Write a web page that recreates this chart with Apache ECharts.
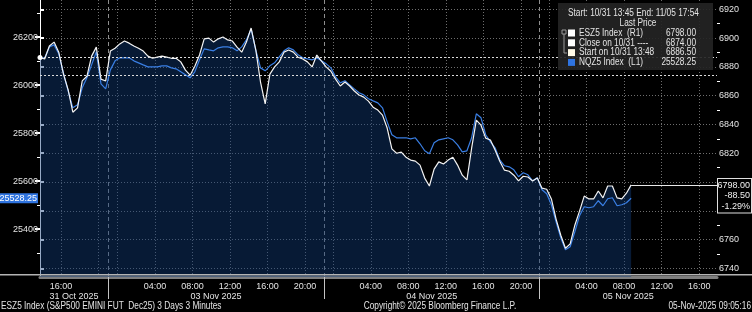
<!DOCTYPE html>
<html><head><meta charset="utf-8">
<script src="https://cdn.jsdelivr.net/npm/echarts@6/dist/echarts.min.js"></script>
<style>html,body{margin:0;padding:0;background:#000;}#c{width:752px;height:312px;}</style>
</head><body><div id="c"></div><script>
const FONT = "'Liberation Sans','Arial',sans-serif";

// sample spacing in trading hours (breaks removed), first sample 10/31 13:45
const STEP_H = 0.5;
const X_MAX = 72.15;

// ESZ5 (S&P500 e-mini, right axis)
const esValues = [
 6886.5,6885.5,6894.5,6897.25,6890.25,6875,6864,6848.5,6851.5,6870.25,
 6873.5,6887.5,6893.75,6871.5,6870.25,6891,6893,6896,6898,6896.5,
 6894.5,6893,6891,6887.5,6886,6886.75,6887.5,6886.75,6886,6886,
 6883.5,6877.75,6874.25,6880.5,6888.25,6899.5,6900,6897.25,6899.5,6900.75,
 6898.75,6898,6893.75,6890.25,6897.25,6907,6891.75,6869.5,6854.25,6875,
 6880,6883.5,6890.25,6891.75,6890.25,6886.75,6885.5,6883.5,6880,6888.25,
 6884,6880,6877,6871.5,6866.75,6869.5,6866.75,6863.25,6860.5,6859,
 6856.25,6852,6850,6846.5,6837.5,6823,6820,6820.75,6817.25,6815.25,
 6814.5,6811.75,6802.75,6797.25,6809,6814,6812.5,6815.25,6817.25,6811.75,
 6804.75,6801.5,6823.5,6843,6839.5,6830.5,6829.25,6822.25,6814.5,6808.25,
 6807.5,6804.75,6800.75,6804,6803.5,6800.75,6802.75,6795.75,6795,6788.25,
 6774.25,6763,6754,6757,6770,6779.75,6790.25,6788.25,6788.25,6793.75,
 6789,6797.25,6797.25,6789,6788.25,6792.25,6798
];
// NQZ5 (Nasdaq-100 e-mini, left axis)
const nqValues = [
 26113.75,26113.75,26159.5,26168,26130.5,26051.25,25976.25,25905.5,25918,25988.75,
 26030.5,26084.5,26138.75,26005.5,25984.5,26063.75,26101.25,26113.75,26113.75,26113.75,
 26101.25,26093,26084.5,26076.25,26076.25,26076.25,26080.5,26080.5,26072,26068,
 26055.5,26043,26030.5,26055.5,26105.5,26151.25,26147,26143,26155.5,26159.5,
 26159.5,26155.5,26143,26159.5,26188.75,26234.5,26147,26072,26059.5,26080.5,
 26093,26118,26143,26155.5,26147,26126.25,26113.75,26109.5,26105.5,26113.75,
 26101.25,26088.75,26072,26034.5,26009.5,26018,26001.25,25984.5,25968,25959.5,
 25943,25934.5,25926.25,25905.5,25847,25793,25780.5,25780.5,25780.5,25776.25,
 25780.5,25755.5,25726.25,25713.75,25759.5,25772,25776.25,25780.5,25772,25751.25,
 25722,25726.25,25780.5,25880.5,25863.75,25793,25763.75,25738.75,25688.75,25663.75,
 25659.5,25647,25618,25634.5,25626.25,25601.25,25613.75,25563.75,25547,25501.25,
 25430.5,25363.75,25313.75,25326.25,25388.75,25455.5,25493,25488.75,25493,25518,
 25497,25526.25,25530.5,25497,25501.25,25509.5,25528.25
];
const esStart = 6886.5;
const esClose = 6874.0;

// axis scales
const NQ_MIN = 25200, NQ_MAX = 26355;
const ES_MIN = 6734, ES_MAX = 6926.5;
const nqTicks = [25400, 25600, 25800, 26000, 26200];
const nqMinor = [25300, 25500, 25700, 25900, 26100, 26300];
const esTicks = [6740, 6760, 6780, 6800, 6820, 6840, 6860, 6880, 6900, 6920];
const esMinor = [6750, 6770, 6790, 6810, 6830, 6850, 6870, 6890, 6910];

// time axis (trading hours since 10/31 13:45)
const gridTimes = [2.25, 6.25, 8.25, 12.25, 16.25, 20.25, 24.25, 28.25, 31.25, 35.25, 39.25, 43.25, 47.25, 51.25, 54.25, 58.25, 62.25, 66.25, 70.25];
const labelTimes = [2.25, 12.25, 16.25, 20.25, 24.25, 28.25, 35.25, 39.25, 43.25, 47.25, 51.25, 58.25, 62.25, 66.25, 70.25];
const labelText = ['16:00','04:00','08:00','12:00','16:00','20:00','04:00','08:00','12:00','16:00','20:00','04:00','08:00','12:00','16:00'];
const sessionBreaks = [7.25, 30.25, 53.25];
const dateTimes = [3.625, 18.75, 41.75, 62.7];
const dateText = ['31 Oct 2025', '03 Nov 2025', '04 Nov 2025', '05 Nov 2025'];

const legendTitle = 'Start: 10/31 13:45 End: 11/05 17:54';
const legendNames = ['ESZ5 Index  (R1)', 'Close on 10/31 ----', 'Start on 10/31 13:48', 'NQZ5 Index  (L1)'];
const legendColors = ['#ffffff', '#ffffff', '#fffbe8', '#2f74e0'];
const footerLeft = 'ESZ5 Index (S&P500 EMINI FUT  Dec25) 3 Days 3 Minutes';
const footerMid = 'Copyright\u00a9 2025 Bloomberg Finance L.P.';
const footerRight = '05-Nov-2025 09:05:16';

const times = esValues.map((_, i) => i * STEP_H);
const esData = esValues.map((v, i) => [times[i], v]);
const nqData = nqValues.map((v, i) => [times[i], v]);
const lastT = times[times.length - 1];
const lastES = esValues[esValues.length - 1];
const lastNQ = nqValues[nqValues.length - 1];
const chg = lastES - esStart;
const pct = chg / esStart * 100;
const legendValues = [lastES.toFixed(2), esClose.toFixed(2), esStart.toFixed(2), lastNQ.toFixed(2)];

function pick(list, texts, v) {
  const k = list.findIndex(t => Math.abs(t - v) < 1e-6);
  return k >= 0 ? texts[k] : '';
}

const GRID = '#6e6e6e';
const TXT = '#e4e4e4';
const SX = 0.83;
const F10 = '10px ' + FONT;

function txt(x, y, text, align) {
  return {type: 'text', x: x, y: y, scaleX: SX, z: 11, silent: true,
          style: {text: text, fill: TXT, font: F10, align: align || 'left', verticalAlign: 'middle'}};
}

const graphic = [];
graphic.push({type: 'rect', shape: {x: 0, y: 274, width: 752, height: 1.5}, style: {fill: '#b4b4b4'}, z: 5, silent: true});
graphic.push({type: 'rect', shape: {x: 558, y: 3, width: 155, height: 67}, style: {fill: 'rgba(36,36,36,0.92)'}, z: 10, silent: true});
graphic.push(txt(568, 13, legendTitle));
graphic.push(txt(638, 23, 'Last Price', 'center'));
graphic.push({type: 'rect', shape: {x: 562, y: 30, width: 4, height: 4}, style: {fill: 'none', stroke: '#9a9a9a', lineWidth: 1}, z: 11, silent: true});
graphic.push({type: 'polyline', shape: {points: [[564, 34], [564, 53], [567, 53]]}, style: {stroke: '#9a9a9a', lineWidth: 1, fill: 'none'}, z: 11, silent: true});
legendNames.forEach((n, k) => {
  const y = 33 + k * 9.8;
  graphic.push({type: 'rect', shape: {x: 568, y: y - 3.5, width: 7, height: 7}, style: {fill: legendColors[k]}, z: 11, silent: true});
  graphic.push(txt(579, y, n));
  graphic.push(txt(696, y, legendValues[k], 'right'));
});
graphic.push(txt(1, 306, footerLeft));
graphic.push(txt(440, 306, footerMid, 'center'));
graphic.push(txt(751, 306, footerRight, 'right'));

const chart = echarts.init(document.getElementById('c'), null, {renderer: 'canvas'});
chart.setOption({
  backgroundColor: '#000',
  animation: false,
  textStyle: {fontFamily: FONT},
  grid: {left: 40, right: 35, top: 0, bottom: 35, containLabel: false, outerBoundsMode: 'none'},
  xAxis: [
    {type: 'value', min: 0, max: X_MAX, position: 'bottom',
     axisLine: {show: true, onZero: false, lineStyle: {color: '#7e7e7e', width: 3}},
     axisTick: {show: false, customValues: gridTimes},
     splitLine: {show: true, lineStyle: {color: GRID, type: [1, 2], width: 1}},
     axisLabel: {customValues: labelTimes, formatter: v => pick(labelTimes, labelText, v), color: TXT, fontSize: 9, margin: 5, fontFamily: FONT}},
    {type: 'value', min: 0, max: X_MAX, position: 'bottom',
     axisLine: {show: false, onZero: false},
     axisTick: {show: true, customValues: sessionBreaks, length: 22, lineStyle: {color: '#c4c4c4', width: 1}},
     splitLine: {show: true, lineStyle: {color: '#8e8e8e', type: [4, 3], width: 1}},
     axisLabel: {customValues: dateTimes, formatter: v => pick(dateTimes, dateText, v), color: TXT, fontSize: 9, margin: 15, fontFamily: FONT}}
  ],
  yAxis: [
    {type: 'value', position: 'left', min: NQ_MIN, max: NQ_MAX,
     axisLine: {show: true, lineStyle: {color: '#ffffff', width: 1}},
     axisTick: {show: true, customValues: nqTicks, length: 5, lineStyle: {color: '#ffffff', width: 2}},
     axisLabel: {customValues: nqTicks, formatter: v => String(v), color: TXT, fontSize: 9, margin: 2, fontFamily: FONT},
     splitLine: {show: false}},
    {type: 'value', position: 'right', min: ES_MIN, max: ES_MAX,
     axisLine: {show: true, lineStyle: {color: '#ffffff', width: 1}},
     axisTick: {show: true, customValues: esTicks, length: 4, lineStyle: {color: '#ffffff', width: 2}},
     axisLabel: {customValues: esTicks, formatter: v => String(v), color: TXT, fontSize: 9, margin: 2, fontFamily: FONT},
     splitLine: {show: true, lineStyle: {color: GRID, type: [1, 2], width: 1}}},
    {type: 'value', position: 'left', min: NQ_MIN, max: NQ_MAX,
     axisLine: {show: false}, axisLabel: {show: false}, splitLine: {show: false},
     axisTick: {show: true, customValues: nqMinor, length: 3, lineStyle: {color: '#ffffff', width: 1}}},
    {type: 'value', position: 'right', min: ES_MIN, max: ES_MAX,
     axisLine: {show: false}, axisLabel: {show: false}, splitLine: {show: false},
     axisTick: {show: true, customValues: esMinor, length: 3, lineStyle: {color: '#ffffff', width: 1}}}
  ],
  series: [
    {name: 'ESZ5 area', type: 'line', xAxisIndex: 0, yAxisIndex: 1, data: esData, showSymbol: false, silent: true,
     lineStyle: {width: 0}, areaStyle: {color: 'rgba(17,60,122,0.62)', origin: 'start'}, z: 1},
    {name: 'NQZ5 Index', type: 'line', xAxisIndex: 0, yAxisIndex: 0, data: nqData, showSymbol: false, silent: true,
     lineStyle: {color: '#3a7fe4', width: 1.2}, z: 3,
     markLine: {silent: true, symbol: ['none', 'none'], animation: false,
       data: [{yAxis: lastNQ, lineStyle: {color: 'rgba(0,0,0,0)', width: 0},
         label: {show: true, position: 'start', distance: 2, formatter: lastNQ.toFixed(2), color: '#ffffff', fontSize: 9, fontFamily: FONT,
                 backgroundColor: '#2f74e0', padding: [1, 1, 0, 1]}}]}},
    {name: 'ESZ5 Index', type: 'line', xAxisIndex: 0, yAxisIndex: 1, data: esData, showSymbol: false, silent: true,
     lineStyle: {color: '#f4f4f4', width: 1.2}, z: 4,
     markPoint: {silent: true, animation: false, symbol: 'circle', symbolSize: 5, itemStyle: {color: '#ffffff'}, label: {show: false},
       data: [{coord: [0, esStart]}]},
     markLine: {silent: true, symbol: ['none', 'none'], animation: false, label: {show: false},
       data: [
         {yAxis: esStart, lineStyle: {color: '#dcdcdc', type: [2, 2], width: 1}},
         {yAxis: esClose, lineStyle: {color: '#dcdcdc', type: [2, 2], width: 1}},
         [{coord: [lastT, lastES], lineStyle: {color: '#e8e8e8', type: 'solid', width: 1},
           label: {show: true, position: 'end', distance: 1, verticalAlign: 'top', offset: [0, -6],
             formatter: ['{a|' + lastES.toFixed(2) + '}', '{a|' + chg.toFixed(2) + '}', '{a|' + pct.toFixed(2) + '%}'].join('\n'),
             backgroundColor: '#000', borderColor: '#e0e0e0', borderWidth: 1, padding: [1, 1, 1, 1],
             rich: {a: {color: '#f0f0f0', fontSize: 9, fontFamily: FONT, width: 31, align: 'right', lineHeight: 10.5}}}},
          {coord: [X_MAX, lastES]}]
       ]}}
  ],
  graphic: graphic
});
</script></body></html>
